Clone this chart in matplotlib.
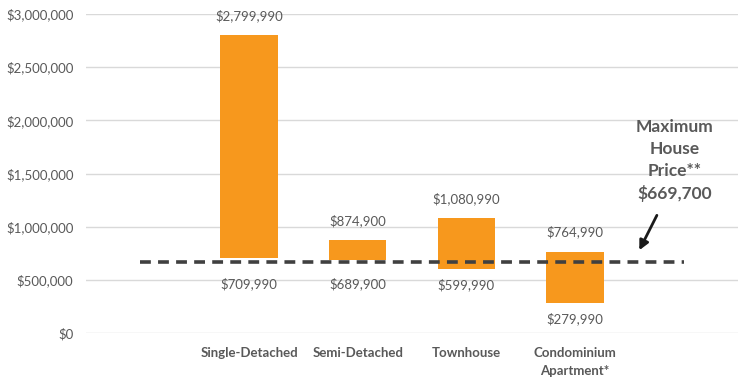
import matplotlib
matplotlib.use("Agg")
import matplotlib.pyplot as plt
from matplotlib.ticker import FuncFormatter

categories = ["", "Single-Detached", "Semi-Detached", "Townhouse", "Condominium\nApartment*", ""]
low_values = [None, 709990, 689900, 599990, 279990, None]
high_values = [None, 2799990, 874900, 1080990, 764990, None]
max_price = 669700
yticks = [0, 500000, 1000000, 1500000, 2000000, 2500000, 3000000]

plt.rcParams['font.family'] = ['Lato', 'DejaVu Sans']
grey = '#595959'

fig = plt.figure(figsize=(7.38, 3.8), dpi=100)
ax = fig.add_axes([86/738, 1-333/380, 1-86/738, (333-14)/380])

x = list(range(len(categories)))
for i, (lo, hi) in enumerate(zip(low_values, high_values)):
    if lo is None:
        continue
    ax.bar(i, hi - lo, bottom=lo, width=0.53, color='#F7981D', zorder=2)
    ax.annotate(f"${hi:,.0f}", (i, hi), xytext=(0, 14), textcoords='offset points',
                ha='center', va='center', fontsize=9.5, color=grey)
    ref = min(lo, max_price)
    off = -16 if lo > max_price else -11
    ax.annotate(f"${lo:,.0f}", (i, ref), xytext=(0, off), textcoords='offset points',
                ha='center', va='center', fontsize=9.5, color=grey)

ax.plot([0, 5], [max_price, max_price], color='#404040', linestyle=(0, (3, 2)), linewidth=2.6, zorder=3)

ax.text(4.92, 1622000, "Maximum\nHouse\nPrice**\n$669,700", ha='center', va='center',
        fontsize=12.5, fontweight='bold', color=grey, linespacing=1.45)
ax.annotate("", xy=(4.58, 755000), xytext=(4.765, 1130000),
            arrowprops=dict(arrowstyle='-|>', color='#1a1a1a', lw=2, mutation_scale=14))

ax.set_xlim(-0.5, 5.5)
ax.set_ylim(0, 3000000)
ax.set_yticks(yticks)
ax.yaxis.set_major_formatter(FuncFormatter(lambda v, p: f"${v:,.0f}"))
ax.set_xticks(x)
ax.set_xticklabels(categories, fontsize=9.5, fontweight='bold', color=grey, linespacing=1.65)
ax.tick_params(axis='y', labelsize=9.5, labelcolor=grey, length=0, pad=9)
ax.tick_params(axis='x', length=0, pad=10)
ax.grid(axis='y', color='#d9d9d9', linewidth=1, zorder=0)
ax.set_axisbelow(True)
for s in ax.spines.values():
    s.set_visible(False)

fig.savefig("out.png", dpi=100)
